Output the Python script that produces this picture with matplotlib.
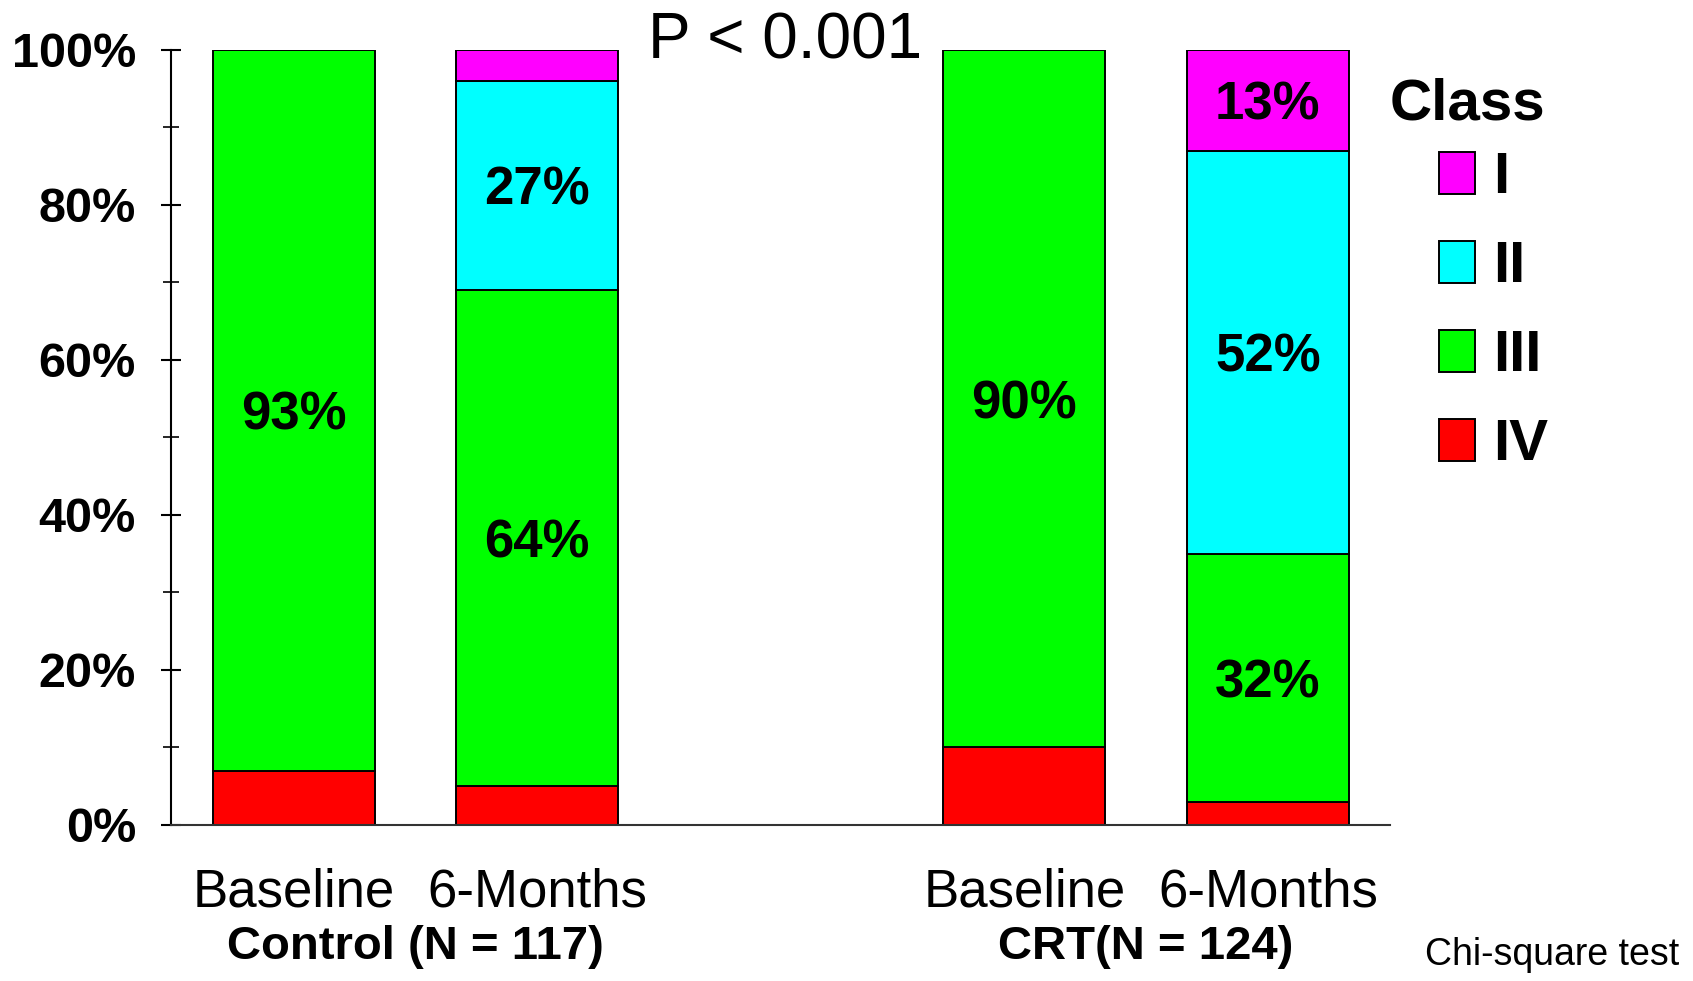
import matplotlib

matplotlib.use("Agg")

import matplotlib.pyplot as plt
from matplotlib.patches import Patch
from matplotlib.ticker import FuncFormatter, MultipleLocator

# NYHA class distribution (% of patients) per group and time point
groups = ["Control (N = 117)", "CRT(N = 124)"]
timepoints = ["Baseline", "6-Months", "Baseline", "6-Months"]
classes = ["I", "II", "III", "IV"]
class_i = [0, 4, 0, 13]
class_ii = [0, 27, 0, 52]
class_iii = [93, 64, 90, 32]
class_iv = [7, 5, 10, 3]
p_text = "P < 0.001"
test_note = "Chi-square test"

colors = {"I": "#ff00ff", "II": "#00ffff", "III": "#00ff00", "IV": "#ff0000"}

plt.rcParams["font.family"] = ["Liberation Sans", "DejaVu Sans"]

fig = plt.figure(figsize=(16.93, 9.81), dpi=100)
ax = fig.add_axes([0.1008, 0.1591, 0.72, 0.7902])

x = [0, 1, 3, 4]
width = 0.665

# stack from the bottom: IV, III, II, I
stack = [("IV", class_iv), ("III", class_iii), ("II", class_ii), ("I", class_i)]
bottom = [0] * len(x)
for name, vals in stack:
    ax.bar(x, vals, width, bottom=bottom, color=colors[name],
           edgecolor="black", linewidth=1.4, zorder=2)
    for xi, b, v in zip(x, bottom, vals):
        if v > 10:
            ax.text(xi, b + v / 2, f"{v}%", ha="center", va="center_baseline",
                    fontsize=38, fontweight="bold", zorder=3)
    bottom = [b + v for b, v in zip(bottom, vals)]

ax.set_xlim(-0.505, 4.5)
ax.set_ylim(0, 100)

ax.yaxis.set_major_locator(MultipleLocator(20))
ax.yaxis.set_minor_locator(MultipleLocator(10))
ax.yaxis.set_major_formatter(FuncFormatter(lambda v, _: f"{v:.0f}%"))
ax.tick_params(axis="y", which="major", direction="inout", length=14, width=1.5,
               pad=18, labelsize=35)
ax.tick_params(axis="y", which="minor", direction="inout", length=12, width=1.2)
for lab in ax.get_yticklabels():
    lab.set_fontweight("bold")

ax.set_xticks(x)
ax.set_xticklabels(timepoints, fontsize=38)
ax.tick_params(axis="x", length=0, pad=31)

for s in ("top", "right"):
    ax.spines[s].set_visible(False)
ax.spines["left"].set_linewidth(1.5)
ax.spines["bottom"].set_linewidth(1.5)
ax.spines["bottom"].set_color("#333333")

# group labels under each pair of bars
for g, (a, b) in zip(groups, [(0, 1), (3, 4)]):
    ax.text((a + b) / 2, -0.157, g, transform=ax.get_xaxis_transform(),
            ha="center", va="center", fontsize=34, fontweight="bold")

fig.text(0.464, 0.940, p_text, ha="center", va="baseline", fontsize=46)
fig.text(0.992, 0.008, test_note, ha="right", va="bottom", fontsize=27)

# legend
fig.text(0.821, 0.878, "Class", ha="left", va="baseline",
         fontsize=42, fontweight="bold")
handles = [Patch(facecolor=colors[c], edgecolor="black", linewidth=1.4) for c in classes]
leg = fig.legend(handles, classes, loc="upper left", bbox_to_anchor=(0.850, 0.846),
                 frameon=False, borderpad=0, borderaxespad=0,
                 handlelength=0.62, handleheight=0.73, handletextpad=0.3,
                 labelspacing=0.6, prop={"size": 42, "weight": "bold"})

fig.savefig("out.png", dpi=100)
plt.close(fig)
